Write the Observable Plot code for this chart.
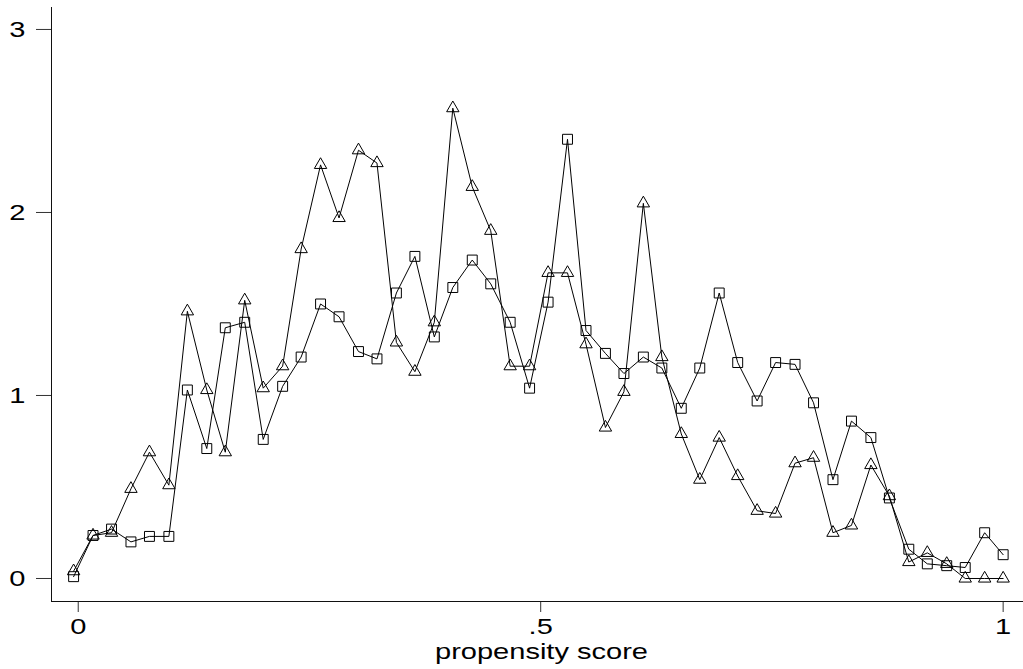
<!DOCTYPE html>
<html><head><meta charset="utf-8">
<script src="https://cdn.jsdelivr.net/npm/d3@7"></script>
<script src="https://cdn.jsdelivr.net/npm/@observablehq/plot@0.6"></script>
<style>html,body{margin:0;padding:0;background:#fff;} svg{display:block}</style>
</head><body><div id="chart"></div>
<script>
// propensity score (x position of each point)
const score = [-0.005, 0.016, 0.036, 0.057, 0.077, 0.098, 0.118, 0.139, 0.159, 0.180,
  0.200, 0.221, 0.241, 0.262, 0.282, 0.303, 0.323, 0.344, 0.364, 0.385,
  0.405, 0.426, 0.446, 0.467, 0.488, 0.508, 0.529, 0.549, 0.570, 0.590,
  0.611, 0.631, 0.652, 0.672, 0.693, 0.713, 0.734, 0.754, 0.775, 0.795,
  0.816, 0.836, 0.857, 0.877, 0.898, 0.918, 0.939, 0.959, 0.980, 1.000];
// series drawn with triangle markers
const triangles = [0.04, 0.235, 0.25, 0.49, 0.69, 0.51, 1.46, 1.03, 0.69, 1.52,
  1.04, 1.16, 1.80, 2.26, 1.97, 2.34, 2.27, 1.29, 1.13, 1.40,
  2.57, 2.14, 1.90, 1.16, 1.16, 1.67, 1.67, 1.28, 0.825, 1.02,
  2.05, 1.21, 0.79, 0.54, 0.77, 0.56, 0.37, 0.355, 0.63, 0.66,
  0.25, 0.29, 0.62, 0.45, 0.09, 0.14, 0.08, 0, 0, 0];
// series drawn with square markers
const squares = [0.01, 0.235, 0.27, 0.20, 0.23, 0.23, 1.03, 0.71, 1.37, 1.40,
  0.76, 1.05, 1.21, 1.50, 1.43, 1.24, 1.20, 1.56, 1.76, 1.32,
  1.59, 1.74, 1.61, 1.40, 1.04, 1.51, 2.40, 1.355, 1.23, 1.12,
  1.21, 1.15, 0.93, 1.15, 1.56, 1.18, 0.97, 1.18, 1.17, 0.96,
  0.54, 0.86, 0.77, 0.44, 0.16, 0.08, 0.07, 0.06, 0.25, 0.13];
const xTicks = [0, 0.5, 1];
const xTickLabels = ["0", ".5", "1"];
const yTicks = [0, 1, 2, 3];
const yTickLabels = ["0", "1", "2", "3"];
const xLabel = "propensity score";

const xDomain = [-0.0289, 1.022];
const yDomain = [-0.1257, 3.12];

const triRows = score.map((s, i) => ({x: s, y: triangles[i]}));
const sqRows = score.map((s, i) => ({x: s, y: squares[i]}));

const chart = Plot.plot({
  width: 1023, height: 669,
  marginLeft: 51, marginRight: 0, marginTop: 7, marginBottom: 68,
  style: {fontFamily: "'Liberation Sans', Arial, sans-serif", fontSize: "22px", background: "#fff", color: "#000"},
  x: {domain: xDomain},
  y: {domain: yDomain},
  marks: [
    Plot.axisY(yTicks, {tickSize: 15, tickPadding: 11, fontSize: 22, tickFormat: d => yTickLabels[yTicks.indexOf(d)], label: null, stroke: "#333", fill: "#000"}),
    Plot.axisX(xTicks, {tickSize: 11, tickPadding: 6, fontSize: 22, tickFormat: d => xTickLabels[xTicks.indexOf(d)], label: null, stroke: "#333", fill: "#000"}),
    Plot.ruleX([xDomain[0]], {stroke: "#111", strokeWidth: 1}),
    Plot.ruleY([yDomain[0]], {stroke: "#111", strokeWidth: 1}),
    Plot.line(triRows, {x: "x", y: "y", stroke: "#000", strokeWidth: 1}),
    Plot.line(sqRows, {x: "x", y: "y", stroke: "#000", strokeWidth: 1}),
    Plot.dot(triRows, {x: "x", y: "y", symbol: "triangle", r: 4.6, stroke: "#000", fill: "none", strokeWidth: 1}),
    Plot.dot(sqRows, {x: "x", y: "y", symbol: "square", r: 5.6, stroke: "#000", fill: "none", strokeWidth: 1}),
    Plot.text([xLabel], {frameAnchor: "bottom", dy: 57, dx: 4, fontSize: 22, fill: "#000"})
  ]
});

chart.querySelectorAll("text").forEach(t => {
  const x = +t.getAttribute("x") || 0;
  const tr = t.getAttribute("transform") || "";
  t.setAttribute("transform", `${tr} translate(${x},0) scale(1.32,1) translate(${-x},0)`);
});

document.getElementById("chart").appendChild(chart);
</script>
</body></html>
